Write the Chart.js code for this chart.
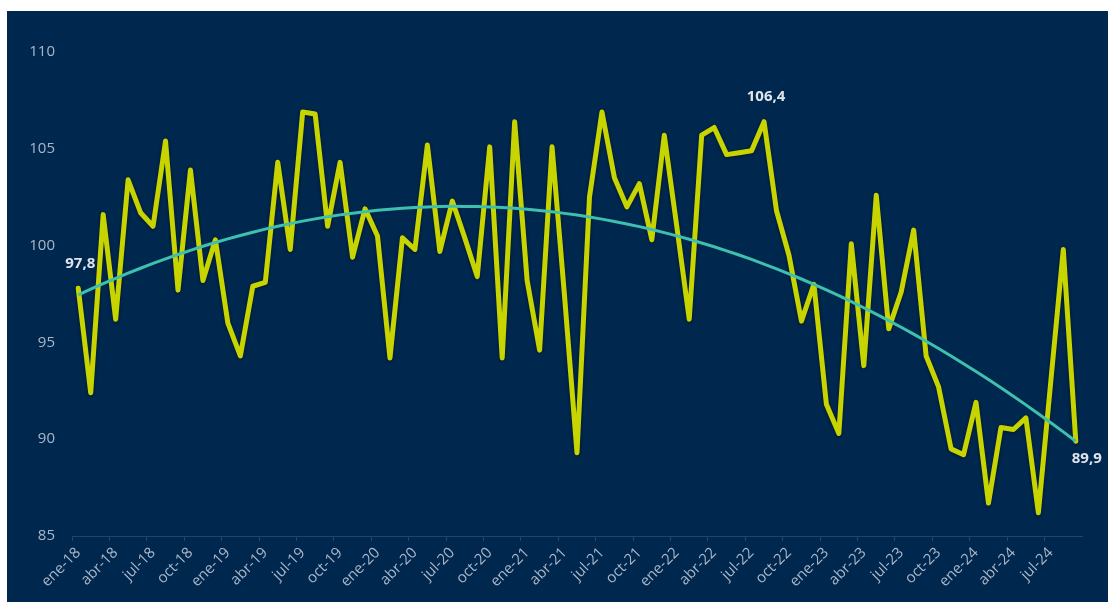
<!DOCTYPE html>
<html>
<head>
<meta charset="utf-8">
<script src="https://cdn.jsdelivr.net/npm/chart.js@4.4.1/dist/chart.umd.min.js"></script>
<style>
  html, body { margin: 0; padding: 0; background: #ffffff; }
  #wrap { position: absolute; left: 7px; top: 11px; width: 1101px; height: 591px; background: #00284f; }
</style>
</head>
<body>
<div id="wrap"><canvas id="chart"></canvas></div>
<script>
// month names and years for the category axis
var monthNames = ["ene", "feb", "mar", "abr", "may", "jun", "jul", "ago", "sep", "oct", "nov", "dic"];
var years = ["18", "19", "20", "21", "22", "23", "24"];

// monthly index values
var values2018 = [97.8, 92.4, 101.6, 96.2, 103.4, 101.7, 101.0, 105.4, 97.7, 103.9, 98.2, 100.3];
var values2019 = [96.0, 94.3, 97.9, 98.1, 104.3, 99.8, 106.9, 106.8, 101.0, 104.3, 99.4, 101.9];
var values2020 = [100.5, 94.2, 100.4, 99.8, 105.2, 99.7, 102.3, 100.4, 98.4, 105.1, 94.2, 106.4];
var values2021 = [98.2, 94.6, 105.1, 97.4, 89.3, 102.5, 106.9, 103.5, 102.0, 103.2, 100.3, 105.7];
var values2022 = [101.0, 96.2, 105.7, 106.1, 104.7, 104.8, 104.9, 106.4, 101.8, 99.5, 96.1, 98.0];
var values2023 = [91.8, 90.3, 100.1, 93.8, 102.6, 95.7, 97.6, 100.8, 94.3, 92.7, 89.5, 89.2];
var values2024 = [91.9, 86.7, 90.6, 90.5, 91.1, 86.2, 93.0, 99.8, 89.9];

// y axis ticks
var yTicks = [85, 90, 95, 100, 105, 110];

// points that carry a value label
var labelledPoints = [0, 55, 80];

var values = [].concat(values2018, values2019, values2020, values2021, values2022, values2023, values2024);

var labels = [];
years.forEach(function (yy) {
  monthNames.forEach(function (m) {
    labels.push(m + "-" + yy);
  });
});
labels = labels.slice(0, values.length);

// 2nd order polynomial trend line (least squares over the data)
function polyTrend(ys) {
  var n = ys.length, s = [0, 0, 0, 0, 0], t = [0, 0, 0];
  for (var i = 0; i < n; i++) {
    var x = i + 1, p = 1;
    for (var k = 0; k < 5; k++) { s[k] += p; if (k < 3) t[k] += p * ys[i]; p *= x; }
  }
  // solve [s0 s1 s2; s1 s2 s3; s2 s3 s4] * [c b a] = t
  var m = [[s[0], s[1], s[2], t[0]], [s[1], s[2], s[3], t[1]], [s[2], s[3], s[4], t[2]]];
  for (var c = 0; c < 3; c++) {
    for (var r = c + 1; r < 3; r++) {
      var f = m[r][c] / m[c][c];
      for (var q = c; q < 4; q++) m[r][q] -= f * m[c][q];
    }
  }
  var sol = [0, 0, 0];
  for (var r2 = 2; r2 >= 0; r2--) {
    var sum = m[r2][3];
    for (var q2 = r2 + 1; q2 < 3; q2++) sum -= m[r2][q2] * sol[q2];
    sol[r2] = sum / m[r2][r2];
  }
  return ys.map(function (_, i) { var x = i + 1; return sol[0] + sol[1] * x + sol[2] * x * x; });
}
var trend = polyTrend(values);

var lineShadow = {
  id: "lineShadow",
  beforeDatasetDraw: function (chart, args) {
    if (args.index !== 1) return;
    var ctx = chart.ctx;
    ctx.save();
    ctx.shadowColor = "rgba(0, 0, 0, 0.45)";
    ctx.shadowBlur = 4;
    ctx.shadowOffsetY = 1;
  },
  afterDatasetDraw: function (chart, args) {
    if (args.index !== 1) return;
    chart.ctx.restore();
  }
};

var valueLabels = {
  id: "valueLabels",
  afterDatasetsDraw: function (chart) {
    var ctx = chart.ctx;
    var meta = chart.getDatasetMeta(1);
    var shifts = { 0: [2, -24], 55: [2, -25], 80: [11, 18] };
    ctx.save();
    ctx.font = "bold 15px 'Open Sans'";
    ctx.fillStyle = "#dfe3ea";
    ctx.textAlign = "center";
    ctx.textBaseline = "middle";
    labelledPoints.forEach(function (i) {
      var pt = meta.data[i];
      var txt = values[i].toFixed(1).replace(".", ",");
      ctx.fillText(txt, pt.x + shifts[i][0], pt.y + shifts[i][1]);
    });
    ctx.restore();
  }
};

var ctx = document.getElementById("chart").getContext("2d");
var chart = new Chart(ctx, {
  type: "line",
  data: {
    labels: labels,
    datasets: [{
      label: "Tendencia",
      data: trend,
      borderColor: "#3fbfad",
      borderWidth: 3,
      pointRadius: 0,
      tension: 0,
      fill: false,
      order: 0
    }, {
      label: "Índice",
      data: values,
      borderColor: "#c8d400",
      borderWidth: 5,
      borderJoinStyle: "round",
      borderCapStyle: "round",
      pointRadius: 0,
      tension: 0,
      fill: false,
      order: 1
    }]
  },
  options: {
    responsive: true,
    maintainAspectRatio: false,
    animation: false,
    layout: { padding: { top: 41, right: 26, left: 0, bottom: 0 } },
    plugins: {
      legend: { display: false },
      tooltip: { enabled: false }
    },
    scales: {
      x: {
        offset: true,
        grid: {
          offset: true,
          drawOnChartArea: false,
          drawTicks: true,
          tickLength: 5,
          tickColor: function (c) { return c.index % 3 === 0 ? "#1f4672" : "rgba(0,0,0,0)"; }
        },
        border: { display: true, color: "#1f4672", width: 1 },
        ticks: {
          autoSkip: false,
          maxRotation: 45,
          minRotation: 45,
          padding: 3,
          color: "#aab7ca",
          font: { family: "'Open Sans'", size: 15 },
          callback: function (v, i) { return i % 3 === 0 ? labels[i] : ""; }
        },
        afterFit: function (scale) { scale.height = 66; }
      },
      y: {
        min: yTicks[0],
        max: yTicks[yTicks.length - 1],
        grid: { display: false, drawTicks: false },
        border: { display: false },
        afterBuildTicks: function (scale) {
          scale.ticks = yTicks.map(function (v) { return { value: v }; });
        },
        ticks: {
          padding: 17,
          color: "#aab7ca",
          font: { family: "'Open Sans'", size: 15 }
        },
        afterFit: function (scale) { scale.width = 65; }
      }
    }
  },
  plugins: [lineShadow, valueLabels]
});
</script>
</body>
</html>
